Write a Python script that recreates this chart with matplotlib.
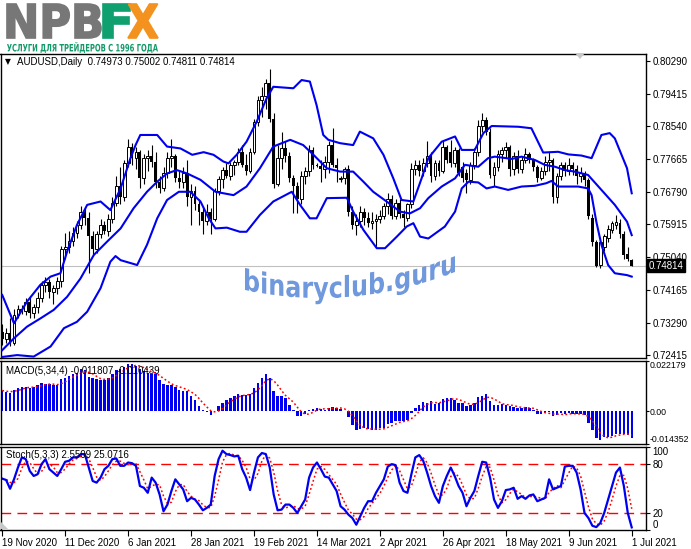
import matplotlib
matplotlib.use('Agg')
import matplotlib.pyplot as plt
import numpy as np
import pandas as pd
from matplotlib.textpath import TextPath
from matplotlib.patches import PathPatch, Polygon
from matplotlib.font_manager import FontProperties
from matplotlib.transforms import Affine2D
from matplotlib.path import Path

W, H = 691, 549

# ---- AUDUSD daily, 19 Nov 2020 .. 1 Jul 2021 ----
opens = [.7305, .7285, .7300, .7275, .7350, .7365, .7360, .7385, .7355, .7370,
         .7395, .7430, .7438, .7410, .7422, .7440, .7525, .7530, .7548, .7570,
         .7590, .7625, .7610, .7560, .7525, .7565, .7590, .7575, .7605, .7650,
         .7695, .7665, .7755, .7800, .7770, .7785, .7715, .7770, .7775, .7760,
         .7705, .7690, .7730, .7770, .7775, .7715, .7705, .7730, .7665, .7680,
         .7645, .7625, .7600, .7625, .7605, .7680, .7712, .7738, .7722, .7750,
         .7758, .7785, .7752, .7735, .7786, .7867, .7925, .7935, .7970, .7875,
         .7700, .7770, .7795, .7775, .7715, .7695, .7660, .7720, .7735, .7790,
         .7752, .7748, .7740, .7760, .7805, .7752, .7712, .7716, .7740, .7626,
         .7590, .7600, .7625, .7610, .7595, .7600, .7605, .7615, .7640, .7660,
         .7615, .7650, .7620, .7610, .7645, .7740, .7750, .7735, .7755, .7775,
         .7720, .7755, .7735, .7800, .7785, .7755, .7790, .7745, .7730, .7710,
         .7750, .7785, .7855, .7870, .7840, .7725, .7745, .7780, .7790, .7800,
         .7740, .7775, .7740, .7765, .7780, .7765, .7745, .7715, .7735, .7760,
         .7765, .7665, .7720, .7750, .7735, .7750, .7740, .7720, .7730, .7710,
         .7608, .7545, .7482, .7530, .7555, .7578, .7590, .7595, .7565, .7512,
         .74973]
highs = [.7325, .7315, .7340, .7365, .7375, .7375, .7395, .7400, .7380, .7410,
         .7440, .7450, .7445, .7430, .7450, .7535, .7570, .7575, .7585, .7600,
         .7640, .7635, .7625, .7575, .7575, .7605, .7600, .7620, .7665, .7720,
         .7745, .7765, .7820, .7810, .7800, .7790, .7780, .7790, .7805, .7785,
         .7720, .7745, .7785, .7819, .7780, .7735, .7745, .7765, .7700, .7695,
         .7660, .7640, .7645, .7635, .7690, .7720, .7745, .7755, .7760, .7765,
         .7795, .7805, .7780, .7795, .7875, .7935, .7960, .7980, .8007, .7890,
         .7805, .7838, .7815, .7785, .7725, .7705, .7735, .7745, .7805, .7800,
         .7757, .7765, .7775, .7815, .7849, .7770, .7720, .7745, .7750, .7640,
         .7620, .7640, .7635, .7625, .7625, .7620, .7630, .7650, .7675, .7670,
         .7660, .7660, .7630, .7650, .7755, .7765, .7765, .7770, .7815, .7785,
         .7765, .7765, .7815, .7805, .7818, .7800, .7795, .7760, .7740, .7760,
         .7795, .7870, .7891, .7880, .7850, .7760, .7790, .7800, .7812, .7805,
         .7785, .7790, .7775, .7795, .7785, .7770, .7750, .7745, .7775, .7785,
         .7770, .7730, .7760, .7760, .7770, .7760, .7750, .7745, .7735, .7715,
         .7620, .7550, .7548, .7565, .7590, .7600, .7617, .7605, .7575, .7530,
         .75002]
lows = [.7270, .7275, .7265, .7270, .7340, .7352, .7350, .7340, .7340, .7355,
        .7385, .7410, .7395, .7380, .7405, .7425, .7500, .7515, .7535, .7555,
        .7580, .7590, .7462, .7510, .7515, .7555, .7565, .7560, .7595, .7640,
        .7645, .7655, .7745, .7750, .7740, .7690, .7700, .7735, .7745, .7690,
        .7675, .7680, .7715, .7745, .7705, .7690, .7690, .7640, .7590, .7630,
        .7590, .7565, .7590, .7565, .7600, .7670, .7690, .7715, .7710, .7725,
        .7750, .7745, .7725, .7730, .7780, .7855, .7880, .7900, .7865, .7690,
        .7695, .7740, .7760, .7705, .7622, .7622, .7645, .7700, .7720, .7740,
        .7745, .7705, .7715, .7730, .7745, .7705, .7705, .7700, .7615, .7580,
        .7563, .7585, .7590, .7585, .7580, .7531, .7595, .7605, .7620, .7605,
        .7605, .7610, .7585, .7600, .7635, .7725, .7720, .7720, .7745, .7705,
        .7710, .7720, .7730, .7755, .7745, .7745, .7720, .7705, .7675, .7700,
        .7740, .7775, .7840, .7830, .7715, .7695, .7735, .7760, .7770, .7720,
        .7725, .7730, .7730, .7755, .7755, .7735, .7705, .7710, .7725, .7735,
        .7650, .7650, .7710, .7720, .7725, .7725, .7700, .7705, .7695, .7605,
        .7535, .7477, .7476, .7520, .7545, .7570, .7580, .7555, .7500, .7495,
        .74811]
closes = [.7285, .7300, .7275, .7350, .7365, .7360, .7385, .7355, .7370, .7395,
          .7430, .7438, .7410, .7422, .7440, .7525, .7530, .7548, .7570, .7590,
          .7625, .7610, .7560, .7525, .7565, .7590, .7575, .7605, .7650, .7695,
          .7665, .7755, .7800, .7770, .7785, .7715, .7770, .7775, .7760, .7705,
          .7690, .7730, .7770, .7775, .7715, .7705, .7730, .7665, .7680, .7645,
          .7625, .7600, .7625, .7605, .7680, .7712, .7738, .7722, .7750, .7758,
          .7785, .7752, .7735, .7786, .7867, .7925, .7935, .7970, .7875, .7700,
          .7770, .7795, .7775, .7715, .7695, .7660, .7720, .7735, .7790, .7752,
          .7748, .7740, .7760, .7805, .7752, .7742, .7716, .7740, .7626, .7590,
          .7600, .7625, .7610, .7595, .7600, .7605, .7615, .7640, .7660, .7615,
          .7650, .7620, .7610, .7645, .7740, .7750, .7735, .7755, .7775, .7720,
          .7755, .7735, .7800, .7765, .7755, .7790, .7730, .7715, .7710, .7750,
          .7785, .7855, .7870, .7840, .7725, .7745, .7780, .7790, .7800, .7740,
          .7775, .7740, .7765, .7780, .7765, .7745, .7715, .7735, .7760, .7765,
          .7665, .7720, .7750, .7735, .7750, .7740, .7720, .7730, .7710, .7615,
          .7545, .7480, .7545, .7560, .7580, .7595, .7598, .7565, .7510, .7500,
          .74814]

# Bollinger bands, read as (bar, price) points along each line
bb_up_x = [0, 3, 6.3, 9.7, 12.3, 14.8, 16.5, 19, 21.6, 25, 27.5, 30.1, 32.6, 33.9, 35.1,
           39.4, 41.9, 45.3, 48.3, 51.2, 53.7, 56.2, 57.5, 59.6, 62.1, 64.7, 67.2, 68.9,
           74, 76.1, 78.2, 79.9, 81.6, 82.9, 85.9, 89.2, 90.9, 94.3, 96.9, 99.4, 101.5,
           104.5, 106.6, 108.3, 111.7, 115.1, 116.8, 120.1, 122.3, 124.4, 131.2, 134.5,
           137.5, 141.3, 143.9, 147.2, 149.8, 152.3, 154.4, 155.7, 158.8, 160]
bb_up_v = [.7403, .7327, .7385, .7430, .7452, .7461, .7519, .7590, .7644, .7653, .7630,
           .7688, .7769, .7804, .7831, .7831, .7800, .7795, .7778, .7785, .7778, .7760,
           .7755, .7778, .7813, .7867, .7929, .7960, .7956, .7978, .7974, .7911, .7831,
           .7818, .7809, .7804, .7840, .7822, .7778, .7715, .7657, .7653, .7715, .7769,
           .7813, .7827, .7791, .7791, .7836, .7855, .7853, .7849, .7784, .7786, .7779,
           .7776, .7769, .7831, .7836, .7822, .7742, .7675]
bb_mid_x = [0, 3, 6.3, 9.7, 13.1, 16.5, 19.9, 23.3, 26.7, 30.1, 33.4, 36.8, 39.4, 41.9,
            44.4, 47, 50.4, 54.2, 58.8, 62.1, 65.5, 68.9, 73.2, 76.5, 79.1, 82.5, 85.9,
            89.2, 91.8, 94.3, 97.7, 101.1, 103.6, 106.2, 108.3, 111.7, 115.1, 117.6, 121,
            123.5, 125.2, 129.5, 132, 135.4, 137.9, 140.5, 143, 145.5, 148.9, 152.3,
            155.7, 158.8, 160]
bb_mid_v = [.7255, .7287, .7318, .7340, .7363, .7398, .7447, .7510, .7546, .7581, .7635,
            .7679, .7706, .7728, .7737, .7728, .7711, .7679, .7670, .7693, .7742, .7800,
            .7818, .7804, .7778, .7742, .7733, .7733, .7706, .7679, .7653, .7626, .7621,
            .7635, .7662, .7693, .7715, .7751, .7746, .7769, .7773, .7767, .7773, .7764,
            .7751, .7746, .7737, .7733, .7724, .7684, .7644, .7599, .7563]
bb_lo_x = [0, 3.8, 8, 12.3, 15.7, 19, 21.6, 25, 27.5, 28.8, 30.1, 34.3, 36.8, 39.4, 41.9,
           44.9, 47.8, 50.4, 52.5, 54.2, 57.1, 60.4, 62.1, 65.5, 68.9, 73.6, 75.7, 78.2,
           79.9, 82.5, 87.6, 89.2, 91.8, 95.2, 97.3, 100.3, 102.8, 104.5, 106.2, 108.3,
           112.5, 115.1, 116.8, 118.5, 121, 123.1, 125.2, 128.6, 132, 135.4, 138.3, 139.6,
           141.3, 146.4, 148.9, 149.8, 151, 152.3, 154, 155.7, 158.8, 160]
bb_lo_v = [.7237, .7242, .7238, .7265, .7314, .7331, .7358, .7421, .7492, .7507, .7496,
           .7483, .7537, .7608, .7657, .7679, .7679, .7653, .7608, .7581, .7583, .7572,
           .7572, .7617, .7653, .7679, .7644, .7608, .7608, .7662, .7663, .7626, .7577,
           .7528, .7528, .7559, .7586, .7595, .7559, .7554, .7586, .7626, .7688, .7706,
           .7704, .7688, .7693, .7684, .7693, .7695, .7702, .7708, .7693, .7693, .7688,
           .7670, .7599, .7537, .7483, .7461, .7456, .7452]

# MACD(5,34,4) main line, in thousandths
macd_milli = [9.18, 8.58, 8.14, 9.62, 10.36, 10.80, 10.66, 10.36, 10.80, 11.54,
              12.43, 12.14, 11.84, 11.54, 11.54, 14.06, 14.80, 15.54, 16.28, 17.02,
              18.50, 18.06, 15.10, 14.50, 14.06, 13.91, 13.91, 14.80, 16.28, 18.06,
              18.50, 19.54, 20.72, 20.72, 19.98, 18.50, 17.76, 17.02, 16.28, 16.28,
              13.62, 11.84, 11.54, 11.54, 10.66, 9.62, 9.18, 8.88, 6.66, 5.18,
              2.22, 0.74, -0.30, -1.48, 0.30, 2.22, 3.70, 5.18, 5.92, 6.66,
              7.70, 7.40, 7.10, 7.70, 10.36, 12.58, 14.50, 16.28, 14.50, 8.88,
              6.66, 6.66, 5.92, 2.96, 0.74, -2.22, -2.22, -1.18, 0.74, 1.18,
              1.48, 1.04, 0.74, 1.48, 2.00, 1.48, 1.04, 0.00, -2.52, -5.92,
              -8.14, -7.70, -7.40, -7.70, -8.14, -8.14, -7.40, -7.10, -5.62, -5.18,
              -4.44, -4.14, -4.14, -3.70, -0.74, 1.48, 2.96, 4.14, 3.70, 4.44,
              3.26, 3.70, 5.48, 5.92, 5.92, 5.18, 3.70, 3.70, 2.22, 2.96,
              3.70, 6.22, 6.66, 7.70, 4.44, 2.96, 2.96, 3.26, 2.96, 2.22,
              1.78, 1.48, 1.48, 1.78, 1.48, 0.74, -1.18, -1.18, -0.74, -0.30,
              -2.22, -1.78, -0.74, -1.18, -0.89, -1.18, -1.18, -1.18, -1.78, -5.18,
              -8.14, -11.84, -12.58, -11.10, -11.10, -10.66, -10.06, -9.75, -9.85, -10.35,
              -11.807]

# Stochastic(5,3,3) %K
stoch_k = [61.7, 60.0, 49.4, 60.8, 75.1, 87.4, 85.3, 71.0, 64.9, 67.0,
           79.2, 85.3, 73.1, 69.0, 64.9, 73.1, 82.1, 83.3, 87.4, 87.4,
           91.4, 91.4, 75.1, 58.8, 56.8, 62.9, 73.1, 77.2, 85.3, 86.1,
           77.2, 77.2, 81.2, 80.4, 77.2, 52.7, 50.6, 44.5, 62.9, 56.8,
           42.5, 22.1, 30.2, 46.6, 60.8, 54.7, 48.6, 34.3, 38.4, 36.4,
           30.2, 23.3, 26.2, 30.2, 64.9, 85.3, 95.5, 91.4, 90.2, 88.6,
           89.4, 73.1, 62.9, 47.8, 69.0, 87.4, 92.7, 91.4, 75.1, 42.5,
           23.3, 24.1, 30.2, 30.2, 26.2, 20.0, 28.2, 36.4, 62.9, 75.1,
           81.2, 73.1, 64.1, 62.9, 54.7, 46.6, 28.2, 24.1, 18.0, 13.9,
           5.8, 15.9, 26.2, 34.3, 34.3, 44.5, 52.7, 60.8, 76.3, 79.2,
           78.0, 56.8, 46.6, 44.5, 67.0, 87.4, 90.2, 83.3, 69.0, 52.7,
           40.4, 32.3, 52.7, 64.9, 75.1, 64.9, 52.7, 44.5, 28.2, 38.4,
           46.6, 64.9, 82.1, 81.2, 62.9, 36.4, 26.2, 34.3, 47.8, 48.6,
           50.6, 37.2, 40.4, 37.2, 41.3, 42.5, 34.3, 36.4, 38.4, 60.8,
           48.6, 50.6, 52.7, 76.3, 77.2, 77.2, 69.0, 48.6, 20.0, 13.9,
           4.5, 2.9, 7.8, 20.0, 36.4, 52.7, 69.0, 75.1, 52.66, 20.0,
           2.55]

price_ticks = [0.80290, 0.79415, 0.78540, 0.77665, 0.76790, 0.75915,
               0.75040, 0.74165, 0.73290, 0.72415]
date_pos = [0, 16, 32, 48, 64, 80, 96, 112, 128, 144, 160]
date_labels = ['19 Nov 2020', '11 Dec 2020', '6 Jan 2021', '28 Jan 2021', '19 Feb 2021',
               '14 Mar 2021', '2 Apr 2021', '26 Apr 2021', '18 May 2021', '9 Jun 2021',
               '1 Jul 2021']

plt.rcParams['font.family'] = ['Liberation Sans', 'DejaVu Sans']
plt.rcParams['axes.unicode_minus'] = False

fig = plt.figure(figsize=(W / 100, H / 100), dpi=100)
fig.patch.set_facecolor('white')
pix = Affine2D().scale(1 / W, 1 / H) + fig.transFigure


def px_axes(x0, y0, x1, y1):
    return fig.add_axes([x0 / W, 1 - y1 / H, (x1 - x0) / W, (y1 - y0) / H])


ax_p = px_axes(0.5, 54, 645.5, 358)
ax_m = px_axes(0.5, 361, 645.5, 444)
ax_s = px_axes(0.5, 447, 645.5, 529.5)

xlim = (-0.43, 163.5)
for ax in (ax_p, ax_m, ax_s):
    ax.set_xlim(*xlim)
    ax.yaxis.tick_right()
    ax.tick_params(axis='y', direction='out', length=3, width=0.8, labelsize=7, pad=2)
    for s in ax.spines.values():
        s.set_color('black')
        s.set_linewidth(1)

# ---- price panel ----
x = np.arange(len(closes))
o, hi, lo, c = map(np.array, (opens, highs, lows, closes))
bull = c >= o
body_lo = np.minimum(o, c)
body_h = np.maximum(np.abs(c - o), 0.00006)

ax_p.axhline(closes[-1], color='#c0c0c0', lw=0.8, zorder=0.5)
ax_p.vlines(x, lo, hi, color='black', lw=0.8, zorder=1)
ax_p.bar(x[bull], body_h[bull], bottom=body_lo[bull], width=0.72,
         facecolor='white', edgecolor='black', linewidth=0.7, zorder=2)
ax_p.bar(x[~bull], body_h[~bull], bottom=body_lo[~bull], width=0.72,
         color='black', linewidth=0, zorder=2)

for bx, bv in ((bb_up_x, bb_up_v), (bb_mid_x, bb_mid_v), (bb_lo_x, bb_lo_v)):
    ax_p.plot(bx, bv, color='#0000f0', lw=1.5, zorder=3, solid_joinstyle='round')

ax_p.set_ylim(0.72342, 0.80477)
ax_p.set_xticks([])
ax_p.set_yticks(price_ticks)
ax_p.set_yticklabels([f'{v:.5f}' for v in price_ticks])
ax_p.text(1.0045, closes[-1], f'{closes[-1]:.5f}', transform=ax_p.get_yaxis_transform(),
          ha='left', va='center', fontsize=7, color='white', clip_on=False, zorder=6,
          bbox=dict(boxstyle='square,pad=0.15', facecolor='black', edgecolor='black'))

fig.text(5 / W, 1 - 62 / H, '\u25bc', family='DejaVu Sans', fontsize=5.5, va='center')
fig.text(17 / W, 1 - 62 / H, 'AUDUSD,Daily  0.74973 0.75002 0.74811 0.74814',
         fontsize=7, va='center')

# ---- MACD panel ----
macd = np.array(macd_milli) / 1000
macd_sig = pd.Series(macd).rolling(4, min_periods=1).mean()
ax_m.bar(x, macd, width=0.62, color='#0000f0', linewidth=0)
ax_m.plot(x, macd_sig, color='red', lw=1.1, ls=(0, (1.2, 1.6)))
ax_m.set_ylim(-0.014352, 0.022179)
ax_m.set_xticks([])
ax_m.set_yticks([0.022179, 0.0, -0.014352])
labs = ax_m.set_yticklabels(['0.022179', '0.00', '-0.014352'])
ax_m.tick_params(axis='y', length=2, pad=1, labelsize=6.3)
labs[0].set_va('top')
labs[2].set_va('bottom')
ax_m.text(0.008, 0.88, 'MACD(5,34,4) -0.011807 -0.010439', transform=ax_m.transAxes,
          fontsize=7, va='center')

# ---- Stochastic panel ----
stoch_d = pd.Series(stoch_k).rolling(3, min_periods=1).mean()
for lev in (80, 20):
    ax_s.axhline(lev, color='red', lw=1, ls=(0, (7, 4.5)))
ax_s.plot(x, stoch_d, color='red', lw=1.1, ls=(0, (1.2, 1.6)))
ax_s.plot(x, stoch_k, color='#0000f0', lw=1.6)
ax_s.set_ylim(0, 100)
ax_s.set_yticks([100, 80, 20, 0])
slabs = ax_s.set_yticklabels(['100', '80', '20', '0'])
slabs[0].set_va('top')
slabs[3].set_va('bottom')
ax_s.text(0.008, 0.9, 'Stoch(5,3,3) 2.5509 25.0716', transform=ax_s.transAxes,
          fontsize=7, va='center')
ax_s.set_xticks(date_pos)
ax_s.set_xticklabels(date_labels, ha='left')
ax_s.tick_params(axis='x', direction='out', length=4, width=0.8, labelsize=7, pad=2)

fig.add_artist(Polygon([(1, H - 522), (1, H - 529), (8, H - 529)], closed=True,
                       facecolor='#c8c8c8', edgecolor='none', transform=pix))
fig.add_artist(Polygon([(575, H - 53), (585, H - 53), (580, H - 59)], closed=True,
                       facecolor='#c8c8c8', edgecolor='none', transform=pix, zorder=5))


# ---- logo ----
def fit_text(s, x0, y0, x1, y1, color, stroke=0.0):
    fp = FontProperties(family='DejaVu Sans', weight='bold')
    tp = TextPath((0, 0), s, size=50, prop=fp)
    bb = tp.get_extents()
    tr = (Affine2D().translate(-bb.x0, -bb.y0)
          .scale((x1 - x0) / bb.width, (y1 - y0) / bb.height)
          .translate(x0, H - y1))
    fig.add_artist(PathPatch(tr.transform_path(tp), facecolor=color,
                             edgecolor=color if stroke else 'none', linewidth=stroke,
                             transform=pix))


fit_text('NPB', 7, 4, 101, 38, '#777777', stroke=1.2)
fit_text('F', 103, 4, 130, 38, '#10a070', stroke=1.2)
fit_text('X', 128, 4, 158, 38, '#f4921f', stroke=1.2)
fit_text('УСЛУГИ ДЛЯ ТРЕЙДЕРОВ С 1996 ГОДА', 7, 42, 158, 53, '#149a6a')

# ---- watermark bent along a shallow arc ----
fp = FontProperties(family='DejaVu Sans', weight='bold')
tp = TextPath((0, 0), 'binaryclub.guru', size=29, prop=fp)
bb = tp.get_extents()
verts = tp.vertices.copy()
xs = 245 + (verts[:, 0] - bb.x0) * (210 / bb.width)
base = 298 - 0.00143 * (xs - 320) ** 2
ys = (H - base) + verts[:, 1]
fig.add_artist(PathPatch(Path(np.column_stack([xs, ys]), tp.codes),
                         facecolor='#7098dc', edgecolor='none', transform=pix, zorder=4))

fig.savefig('out.png', dpi=100, facecolor='white')
